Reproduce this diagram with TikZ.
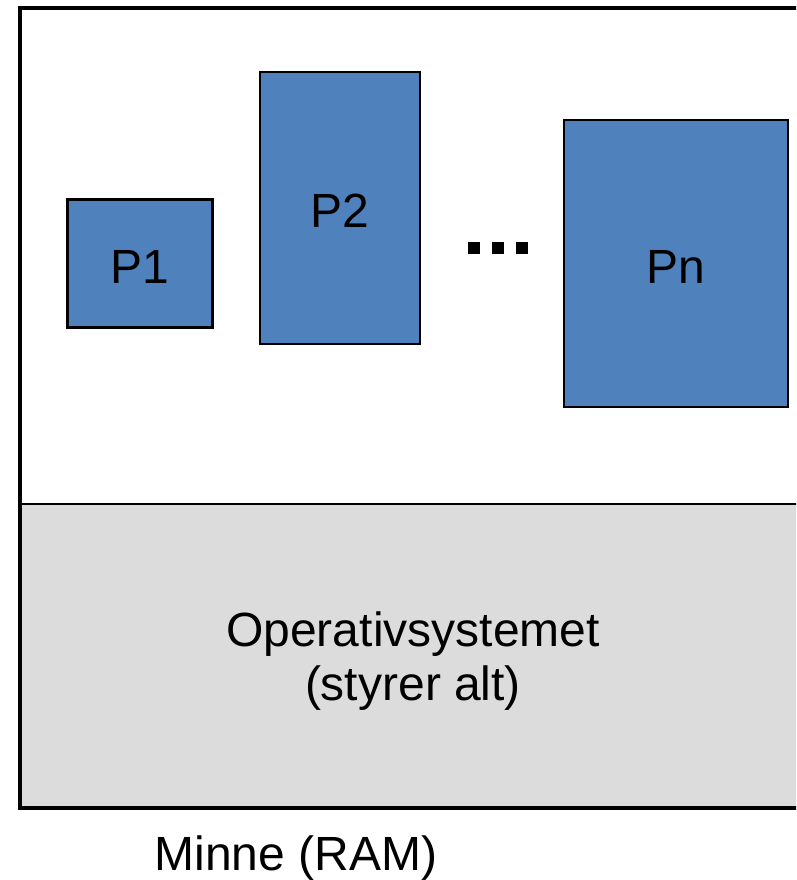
\documentclass[tikz,border=0pt]{standalone}
\usepackage{fontspec}
\setmainfont{Liberation Sans}
\definecolor{procblue}{RGB}{79,129,189}
\definecolor{osgray}{RGB}{220,220,220}
\begin{document}
\begin{tikzpicture}[x=1pt,y=-1pt,
  proc/.style={draw=black,line width=2.2pt,fill=procblue,rectangle,inner sep=0pt,
    text height=39pt,text depth=0pt,font=\fontsize{48}{54}\selectfont},
  lbl/.style={font=\fontsize{48}{54}\selectfont,inner sep=0pt,anchor=base},
  dotsq/.style={fill=black,draw=none,rectangle,inner sep=0pt,minimum size=12pt}]
\useasboundingbox (0,0) rectangle (796,880);
\clip (0,0) rectangle (796,880);
% OS region
\fill[osgray] (20,504) rectangle (810,808);
\draw[line width=2.3pt] (20,504) -- (810,504);
% outer frame
\draw[line width=4pt] (810,8) -- (20,8) -- (20,808) -- (810,808);
% processes
\node[proc,minimum width=145pt,minimum height=128pt] (p1) at (140,263.5) {P1};
\node[proc,minimum width=160pt,minimum height=272pt] (p2) at (340,208) {P2};
\node[proc,minimum width=224pt,minimum height=287pt] (pn) at (676,263.5) {Pn};
% dots
\node[dotsq] (d1) at (474,248) {};
\node[dotsq] (d2) at (498,248) {};
\node[dotsq] (d3) at (522,248) {};
% labels
\node[lbl] (os1) at (413,646) {Operativsystemet};
\node[lbl] (os2) at (413,700) {(styrer alt)};
\node[lbl] (ram) at (296,870) {Minne (RAM)};
\end{tikzpicture}
\end{document}
